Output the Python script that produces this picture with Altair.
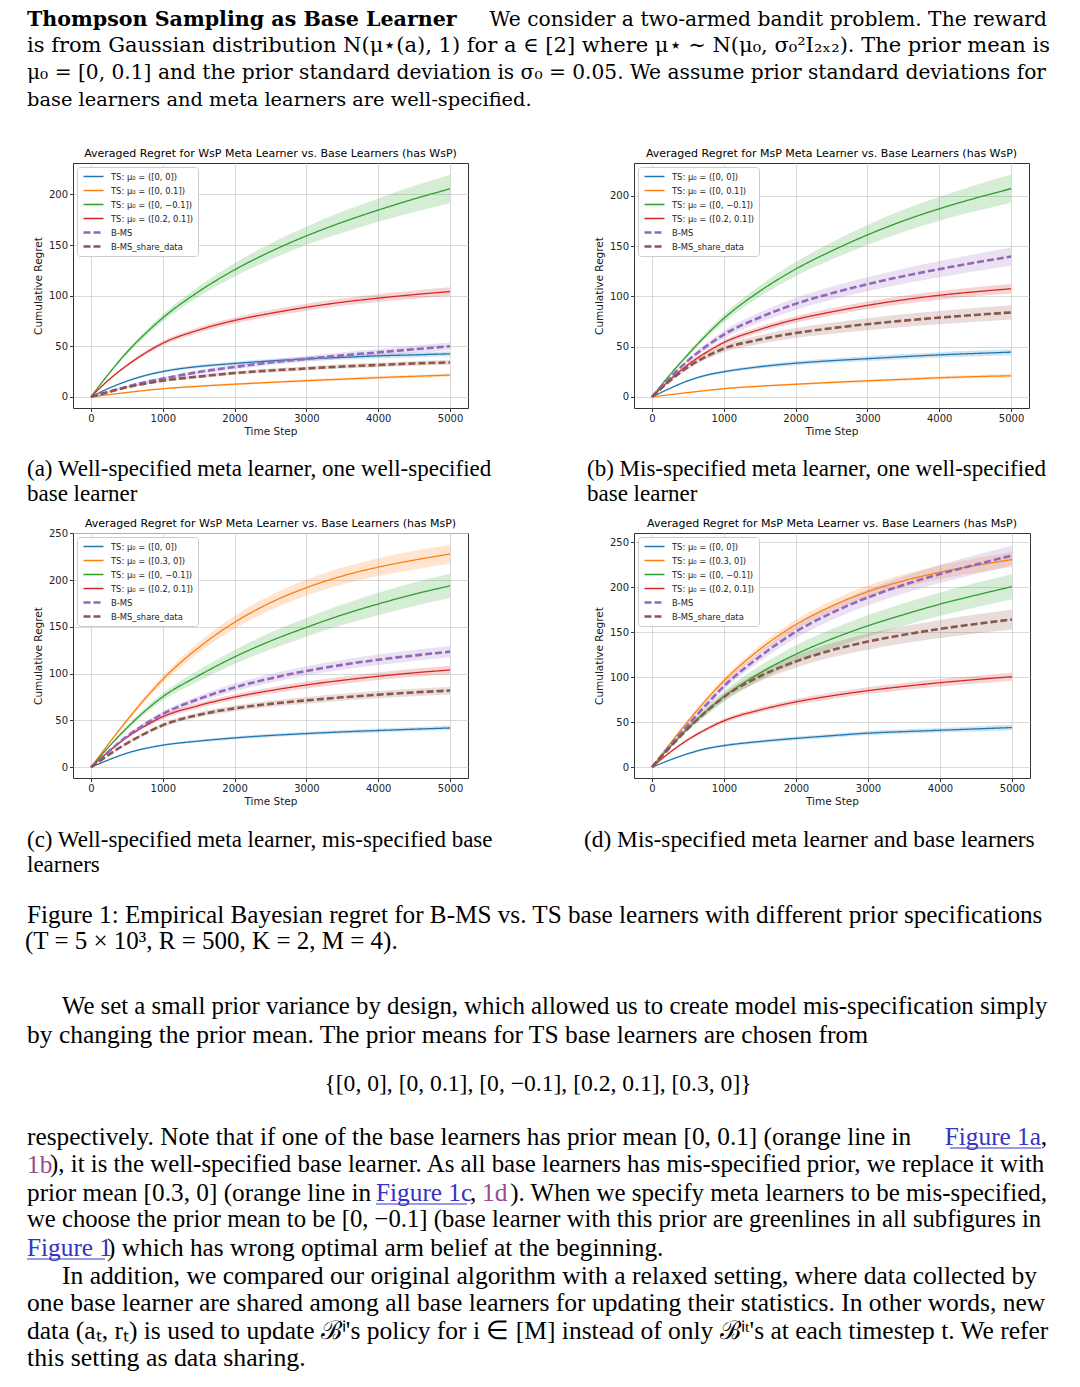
import altair as alt
import pandas as pd

# ---------------- data ----------------
T = [0, 250, 500, 750, 1000, 1500, 2000, 2500, 3000, 3500, 4000, 4500, 5000]

LABELS_WSP = ["TS: μ₀ = ([0, 0])", "TS: μ₀ = ([0, 0.1])", "TS: μ₀ = ([0, −0.1])",
              "TS: μ₀ = ([0.2, 0.1])", "B-MS", "B-MS_share_data"]
LABELS_MSP = ["TS: μ₀ = ([0, 0])", "TS: μ₀ = ([0.3, 0])", "TS: μ₀ = ([0, −0.1])",
              "TS: μ₀ = ([0.2, 0.1])", "B-MS", "B-MS_share_data"]

# (a) WsP meta learner, base learners has WsP
a_blue = [0, 8.5, 15.5, 21, 25, 30, 33, 35.5, 37.5, 39, 40.5, 41.5, 42.5]
a_orange = [0, 2.2, 4.3, 6.3, 8, 10.5, 12.5, 14.3, 16, 17.5, 19, 20.3, 21.5]
a_green = [0, 23, 44, 62, 78, 104, 125.5, 143.5, 159, 172.5, 184.5, 195.5, 205.5]
a_red = [0, 17, 31, 43, 53, 66, 75.5, 82.5, 88.5, 93.5, 97.5, 101, 104]
a_purple = [0, 5, 10, 14.5, 18, 24.5, 29.5, 34, 37.5, 41, 44, 47, 50]
a_brown = [0, 5, 9.5, 13, 16, 20, 23.5, 26, 28, 30, 31.5, 33, 34]
a_blue_hw = [0, .5, 1, 1.2, 1.4, 1.6, 1.8, 2, 2.1, 2.2, 2.3, 2.4, 2.5]
a_orange_hw = [0, .3, .5, .7, .8, 1, 1.1, 1.2, 1.3, 1.4, 1.5, 1.6, 1.7]
a_green_hw = [0, 1, 2, 2.8, 3.5, 5, 6.5, 8, 9, 10.5, 11.5, 13, 14]
a_red_hw = [0, 1, 1.5, 2, 2.3, 2.7, 3, 3.2, 3.4, 3.6, 3.8, 4, 4.2]
a_purple_hw = [0, .5, 1, 1.3, 1.5, 2, 2.3, 2.6, 2.8, 3, 3.2, 3.4, 3.6]
a_brown_hw = [0, .5, .8, 1, 1.2, 1.5, 1.7, 1.9, 2, 2.1, 2.2, 2.3, 2.4]

# (b) MsP meta learner, base learners has WsP
b_blue = [0, 8.5, 16, 21.5, 25, 30, 33.5, 36, 38, 40, 41.8, 43.2, 44.5]
b_orange = [0, 2.2, 4.3, 6.3, 8.2, 10.7, 12.6, 14.4, 16, 17.5, 19, 20.2, 21]
b_green = [0, 22, 42, 61, 78, 105, 127, 145, 161, 175, 187, 197.5, 207]
b_red = [0, 17, 32, 44, 54, 67, 77, 84.5, 91, 96.5, 101, 104.5, 107.5]
b_purple = [0, 19, 36, 50, 62, 79, 92.5, 103, 112, 120, 127, 133.5, 139.5]
b_brown = [0, 16, 29.5, 40, 48, 57, 63.5, 68.3, 72.3, 75.8, 78.8, 81.5, 84]
b_blue_hw = [0, .5, 1, 1.3, 1.5, 1.8, 2, 2.2, 2.4, 2.6, 2.7, 2.9, 3]
b_orange_hw = [0, .3, .5, .7, .8, 1, 1.1, 1.2, 1.3, 1.4, 1.5, 1.6, 1.7]
b_green_hw = [0, 1, 2, 3, 4, 5.5, 7, 8.5, 10, 11, 12, 13, 14]
b_red_hw = [0, 1, 1.5, 2, 2.5, 3, 3.3, 3.6, 3.9, 4.1, 4.3, 4.5, 4.7]
b_purple_hw = [0, 1, 2, 3, 4, 5, 6, 6.5, 7, 7.5, 8, 8.5, 9]
b_brown_hw = [0, 1, 2, 2.8, 3.5, 4.3, 5, 5.5, 6, 6.3, 6.6, 6.8, 7]

# (c) WsP meta learner, base learners has MsP
c_blue = [0, 8, 15, 20, 23.6, 28, 31.4, 34, 36, 37.8, 39.3, 40.7, 42]
c_orange = [0, 25.5, 50, 73, 94, 128, 155, 176, 192, 204.5, 214, 221.5, 228]
c_green = [0, 22, 42, 60, 75.4, 98, 118, 135, 149.6, 163, 174.6, 185, 194]
c_red = [0, 17, 32, 44, 54, 66, 75, 82, 88, 93, 97.3, 101, 104]
c_purple = [0, 17, 33, 46, 57, 73, 85.4, 95, 103, 109.5, 115, 119.5, 123.6]
c_brown = [0, 13.5, 25.5, 36, 45, 56, 63, 67.8, 71.5, 74.8, 77.6, 80, 82]
c_blue_hw = [0, .4, .8, 1, 1.2, 1.4, 1.6, 1.8, 1.9, 2, 2.1, 2.2, 2.3]
c_orange_hw = [0, 1, 2, 3, 4, 5.5, 7, 8, 8.5, 9, 9.5, 10, 10]
c_green_hw = [0, 1, 2, 3, 4, 6, 7.5, 9, 10, 11, 12, 12.5, 13]
c_red_hw = [0, .8, 1.5, 2, 2.4, 2.8, 3.1, 3.4, 3.7, 3.9, 4.1, 4.3, 4.5]
c_purple_hw = [0, .8, 1.5, 2.2, 2.8, 3.5, 4.1, 4.6, 5, 5.3, 5.6, 5.8, 6]
c_brown_hw = [0, .6, 1.2, 1.7, 2.1, 2.6, 3, 3.3, 3.5, 3.7, 3.9, 4, 4.2]

# (d) MsP meta learner, base learners has MsP
d_blue = [0, 8, 15, 20.5, 24, 28.5, 32, 35, 37.8, 39.5, 41, 42.5, 44]
d_orange = [0, 26, 51, 74.5, 96, 131, 158.5, 179, 195, 207, 216.5, 224, 230.5]
d_green = [0, 22.5, 43.5, 62, 78.5, 104.5, 125.5, 142.5, 157, 169.5, 181, 191, 200.5]
d_red = [0, 16.5, 30.5, 42, 51.5, 63.5, 72.5, 79.3, 85, 89.7, 93.8, 97.3, 100.4]
d_purple = [0, 24, 47, 69, 90, 123, 150.5, 171.5, 188.5, 202.5, 214.5, 225, 235]
d_brown = [0, 22, 43, 61.5, 78, 101, 117.5, 130, 139.5, 147, 153.5, 159, 164]
d_blue_hw = [0, .5, 1, 1.3, 1.5, 1.8, 2, 2.2, 2.4, 2.5, 2.6, 2.8, 3]
d_orange_hw = [0, 1, 2, 3, 3.5, 4.5, 5.5, 6.2, 6.8, 7.2, 7.6, 8, 8.5]
d_green_hw = [0, 1.5, 3, 4.5, 6, 8, 10, 11, 12, 12.5, 13, 13.5, 14]
d_red_hw = [0, .8, 1.5, 2, 2.5, 2.9, 3.2, 3.5, 3.7, 3.9, 4.1, 4.3, 4.5]
d_purple_hw = [0, 1, 2, 3, 4, 5.5, 7, 8, 9, 9.5, 10, 10.5, 11]
d_brown_hw = [0, 1, 2, 3, 4, 5.5, 7, 8, 9, 9.5, 10, 10.5, 11]

X_TICKS = [0, 1000, 2000, 3000, 4000, 5000]
Y_TICKS_AB = [0, 50, 100, 150, 200]
Y_TICKS_CD = [0, 50, 100, 150, 200, 250]

COLORS = ["#1f77b4", "#ff7f0e", "#2ca02c", "#d62728", "#9467bd", "#8c564b"]
DASHES = [[1, 0], [1, 0], [1, 0], [1, 0], [7, 3], [7, 3]]
WIDTHS = [1.3, 1.3, 1.3, 1.3, 2.6, 2.6]

SANS = "DejaVu Sans"
SERIF = "Liberation Serif"
HEAD = "DejaVu Serif"
LINK = "#3434c4"
VISITED = "#9a4a92"

dummy = pd.DataFrame({"v": [0]})


def panel(title, labels, vals, hws, ydom, yticks, w, h, tdy=0):
    rows = []
    for lab, col, v, hw in zip(labels, COLORS, vals, hws):
        for t, yv, hv in zip(T, v, hw):
            rows.append({"series": lab, "band": col, "t": t, "y": yv,
                         "lo": yv - hv, "hi": yv + hv})
    df = pd.DataFrame(rows)
    xs = alt.Scale(domain=[-250, 5250], nice=False, zero=False)
    ys = alt.Scale(domain=ydom, nice=False, zero=False)
    xax = alt.Axis(values=X_TICKS, format="d", title="Time Step", titlePadding=3)
    yax = alt.Axis(values=yticks, title="Cumulative Regret", titlePadding=5)
    leg = alt.Legend(title=None, orient="top-left", offset=4, fillColor="white",
                     strokeColor="#cccccc", cornerRadius=3, padding=5,
                     labelFont=SANS, labelFontSize=8.4, labelColor="#222",
                     symbolType="stroke", symbolSize=400, rowPadding=5,
                     labelOffset=6, clipHeight=9, labelLimit=300)
    band = alt.Chart(df).mark_area(opacity=0.2, interpolate="monotone").encode(
        x=alt.X("t:Q", scale=xs, axis=xax),
        y=alt.Y("lo:Q", scale=ys, axis=yax),
        y2="hi:Q",
        fill=alt.Fill("band:N", scale=None),
        detail="series:N",
    )
    line = alt.Chart(df).mark_line(interpolate="monotone").encode(
        x=alt.X("t:Q", scale=xs, axis=xax),
        y=alt.Y("y:Q", scale=ys, axis=yax),
        color=alt.Color("series:N", scale=alt.Scale(domain=labels, range=COLORS), legend=leg),
        strokeDash=alt.StrokeDash("series:N", scale=alt.Scale(domain=labels, range=DASHES), legend=leg),
        strokeWidth=alt.StrokeWidth("series:N", scale=alt.Scale(type="ordinal", domain=labels, range=WIDTHS), legend=leg),
    )
    return alt.layer(band, line).properties(
        width=w, height=h,
        title=alt.TitleParams(title, font=SANS, fontSize=11, fontWeight="normal",
                              color="black", offset=4, anchor="middle", dy=tdy),
        view=alt.ViewBackground(stroke="#333333", strokeWidth=1),
    )


def spacer(w, h):
    return alt.Chart(dummy).mark_point(opacity=0, size=0).encode(
        x=alt.value(w / 2), y=alt.value(h / 2)
    ).properties(width=w, height=h, view=alt.ViewBackground(stroke=None))


def txt(s, x, y, size=25.3, color="black", align="left", weight="normal", font=SERIF):
    return alt.Chart(dummy).mark_text(
        text=s, align=align, baseline="middle", fontSize=size, font=font,
        color=color, fontWeight=weight
    ).encode(x=alt.value(x), y=alt.value(y))


def uline(x1, x2, y, color=LINK):
    return alt.Chart(dummy).mark_rule(color=color, strokeWidth=1).encode(
        x=alt.value(x1), x2=alt.value(x2), y=alt.value(y))


def block(items, w, h):
    return alt.layer(*items).properties(width=w, height=h, view=alt.ViewBackground(stroke=None))


header = block([
    txt("Thompson Sampling as Base Learner", 19, 12.3, 20.6, weight="bold", font=HEAD),
    txt("We consider a two-armed bandit problem. The reward", 1039, 12.3, 20.3, align="right", font=HEAD),
    txt("is from Gaussian distribution N(μ⋆(a), 1) for a ∈ [2] where μ⋆ ∼ N(μ₀, σ₀²I₂ₓ₂). The prior mean is", 19, 38, 21, font=HEAD),
    txt("μ₀ = [0, 0.1] and the prior standard deviation is σ₀ = 0.05. We assume prior standard deviations for", 19, 64.5, 20.2, font=HEAD),
    txt("base learners and meta learners are well-specified.", 19, 91.5, 19.4, font=HEAD),
], 65, 155)

pa = panel("Averaged Regret for WsP Meta Learner vs. Base Learners (has WsP)", LABELS_WSP,
           [a_blue, a_orange, a_green, a_red, a_purple, a_brown],
           [a_blue_hw, a_orange_hw, a_green_hw, a_red_hw, a_purple_hw, a_brown_hw],
           [-11, 231], Y_TICKS_AB, 395, 245)
pb = panel("Averaged Regret for MsP Meta Learner vs. Base Learners (has WsP)", LABELS_WSP,
           [b_blue, b_orange, b_green, b_red, b_purple, b_brown],
           [b_blue_hw, b_orange_hw, b_green_hw, b_red_hw, b_purple_hw, b_brown_hw],
           [-11, 232.5], Y_TICKS_AB, 395, 245)
pc = panel("Averaged Regret for WsP Meta Learner vs. Base Learners (has MsP)", LABELS_MSP,
           [c_blue, c_orange, c_green, c_red, c_purple, c_brown],
           [c_blue_hw, c_orange_hw, c_green_hw, c_red_hw, c_purple_hw, c_brown_hw],
           [-11.5, 250.5], Y_TICKS_CD, 395, 245, tdy=5)
pd_ = panel("Averaged Regret for MsP Meta Learner vs. Base Learners (has MsP)", LABELS_MSP,
            [d_blue, d_orange, d_green, d_red, d_purple, d_brown],
            [d_blue_hw, d_orange_hw, d_green_hw, d_red_hw, d_purple_hw, d_brown_hw],
            [-12, 260], Y_TICKS_CD, 396, 245)

SUB = 23
caps = block([
    txt("(a) Well-specified meta learner, one well-specified", 19, 61, SUB),
    txt("base learner", 19, 86, SUB),
    txt("(b) Mis-specified meta learner, one well-specified", 579, 61, SUB),
    txt("base learner", 579, 86, SUB),
], 65, 125)

bottom = block([
    txt("(c) Well-specified meta learner, mis-specified base", 19, 62, SUB),
    txt("learners", 19, 87, SUB),
    txt("(d) Mis-specified meta learner and base learners", 576, 62, 23.4),
    txt("Figure 1: Empirical Bayesian regret for B-MS vs. TS base learners with different prior specifications", 19, 137, 25.2),
    txt("(T = 5 × 10³, R = 500, K = 2, M = 4).", 17, 163, 25),
    txt("We set a small prior variance by design, which allowed us to create model mis-specification simply", 54, 229, 24.8),
    txt("by changing the prior mean. The prior means for TS base learners are chosen from", 19, 257, 25.5),
    txt("{[0, 0], [0, 0.1], [0, −0.1], [0.2, 0.1], [0.3, 0]}", 530, 306, 23.6, align="center"),
    txt("respectively. Note that if one of the base learners has prior mean [0, 0.1] (orange line in", 19, 359),
    txt("Figure 1a", 1033, 359, color=LINK, align="right"),
    uline(942, 1033, 370),
    txt(",", 1039, 359, align="right"),
    txt("1b", 19, 387, color=VISITED),
    txt("), it is the well-specified base learner. As all base learners has mis-specified prior, we replace it with", 42, 387, 24.9),
    txt("prior mean [0.3, 0] (orange line in", 19, 415),
    txt("Figure 1c", 368, 415, color=LINK),
    uline(368, 459, 426),
    txt(",", 462, 415),
    txt("1d", 474, 415, color=VISITED),
    txt("). When we specify meta learners to be mis-specified,", 1039, 415, 25, align="right"),
    txt("we choose the prior mean to be [0, −0.1] (base learner with this prior are greenlines in all subfigures in", 19, 442, 24.7),
    txt("Figure 1", 19, 470, color=LINK),
    uline(19, 97, 481),
    txt(") which has wrong optimal arm belief at the beginning.", 99, 470),
    txt("In addition, we compared our original algorithm with a relaxed setting, where data collected by", 54, 498, 25.6),
    txt("one base learner are shared among all base learners for updating their statistics. In other words, new", 19, 525, 25.5),
    txt("data (aₜ, rₜ) is used to update ℬⁱ's policy for i ∈ [M] instead of only ℬⁱᵗ's at each timestep t. We refer", 19, 553, 25.5),
    txt("this setting as data sharing.", 19, 580, 25.8),
], 65, 598)

t1 = spacer(1, 155)
t2 = spacer(1, 125)
t3 = spacer(1, 598)
cells = [header, t1, t1, t1,
         spacer(65, 245), pa, spacer(166, 245), pb,
         caps, t2, t2, t2,
         spacer(65, 245), pc, spacer(159, 245), pd_,
         bottom, t3, t3, t3]

chart = alt.concat(*cells, columns=4, spacing=0, bounds="flush", align="none").resolve_scale(
    color="independent", strokeDash="independent", strokeWidth="independent"
).resolve_legend(
    color="independent", strokeDash="independent", strokeWidth="independent"
).properties(
    padding=0, background="white"
).configure_view(stroke=None).configure_axis(
    labelFont=SANS, labelFontSize=10, labelColor="#222", titleFont=SANS,
    titleFontSize=10.5, titleFontWeight="normal", titleColor="#222",
    tickColor="#333", tickSize=3.5, domain=False, gridColor="#cfcfcf",
    gridWidth=0.8, labelPadding=2
)

chart.save("out.html", embed_options={"renderer": "svg", "actions": False})
